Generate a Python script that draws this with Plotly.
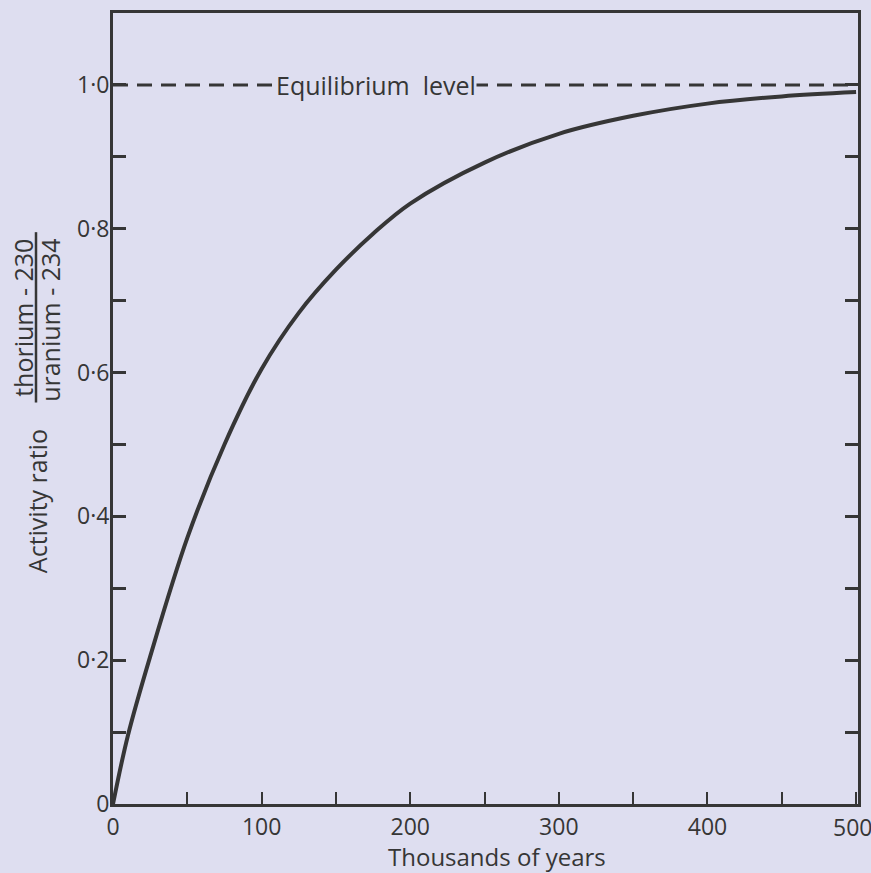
import plotly.graph_objects as go

# Data
years_k = [0, 10, 25, 50, 75, 100, 125, 150, 175, 200, 250, 300, 350, 400, 450, 500]
activity_ratio = [0, 0.095, 0.205, 0.37, 0.50, 0.605, 0.683, 0.743, 0.793, 0.835,
                  0.892, 0.932, 0.957, 0.974, 0.984, 0.99]

equilibrium_level = 1.0
equilibrium_x = [0, 500]
equilibrium_label = "Equilibrium  level"
equilibrium_label_x = 177

x_tickvals = [0, 50, 100, 150, 200, 250, 300, 350, 400, 450, 500]
x_ticktext = ["0", "", "100", "", "200", "", "300", "", "400", "", ""]
x_last_label = "500"
x_last_value = 500
y_tickvals = [0, 0.1, 0.2, 0.3, 0.4, 0.5, 0.6, 0.7, 0.8, 0.9, 1.0]
y_ticktext = ["0", "", "0·2", "", "0·4", "", "0·6", "", "0·8", "", "1·0"]

BG = "#DEDEF0"
INK = "#363636"
FONT = "Open Sans"
TICK_SIZE = 23

fig = go.Figure()

fig.add_trace(go.Scatter(
    x=equilibrium_x, y=[equilibrium_level] * len(equilibrium_x),
    mode="lines", line=dict(color=INK, width=3, dash="15px,9px"),
    hoverinfo="skip", showlegend=False))

fig.add_trace(go.Scatter(
    x=years_k, y=activity_ratio, mode="lines",
    line=dict(color=INK, width=4, shape="spline", smoothing=1.0),
    showlegend=False))

fig.add_annotation(x=equilibrium_label_x, y=equilibrium_level, xref="x", yref="y",
                   text=equilibrium_label, showarrow=False, bgcolor=BG,
                   font=dict(family=FONT, size=25, color=INK),
                   xanchor="center", yanchor="middle", borderpad=0)

# last x tick label drawn as annotation so it stays inside the page
fig.add_annotation(x=x_last_value, y=0, xref="x", yref="paper", text=x_last_label,
                   showarrow=False, xanchor="center", yanchor="top",
                   xshift=-4, yshift=-5,
                   font=dict(family=FONT, size=TICK_SIZE, color=INK))

L, R, T, B = 113, 13, 10, 69
W, H = 871, 873
pw, ph = W - L - R, H - T - B

def px_to_paper(px, py):
    return (px - L) / pw, (H - B - py) / ph

ax, ay = px_to_paper(37, 500)
fig.add_annotation(x=ax, y=ay, xref="paper", yref="paper", text="Activity ratio",
                   textangle=-90, showarrow=False,
                   font=dict(family=FONT, size=25, color=INK),
                   xanchor="center", yanchor="middle")
nx, ny = px_to_paper(23, 316)
fig.add_annotation(x=nx, y=ny, xref="paper", yref="paper", text="thorium - 230",
                   textangle=-90, showarrow=False,
                   font=dict(family=FONT, size=25, color=INK),
                   xanchor="center", yanchor="middle")
dx, dy = px_to_paper(50, 318)
fig.add_annotation(x=dx, y=dy, xref="paper", yref="paper", text="uranium - 234",
                   textangle=-90, showarrow=False,
                   font=dict(family=FONT, size=25, color=INK),
                   xanchor="center", yanchor="middle")
lx, ly0 = px_to_paper(36, 401)
_, ly1 = px_to_paper(36, 230)
fig.add_shape(type="line", xref="paper", yref="paper", x0=lx, x1=lx, y0=ly0, y1=ly1,
              line=dict(color=INK, width=2.5))

tx, ty = px_to_paper(497, 857)
fig.add_annotation(x=tx, y=ty, xref="paper", yref="paper", text="Thousands of years",
                   showarrow=False, font=dict(family=FONT, size=24, color=INK),
                   xanchor="center", yanchor="middle")

fig.update_xaxes(range=[0, 501.3], tickvals=x_tickvals, ticktext=x_ticktext,
                 ticks="inside", ticklen=12, tickwidth=2, tickcolor=INK,
                 showline=True, linewidth=3, linecolor=INK, mirror=True,
                 showgrid=False, zeroline=False,
                 tickfont=dict(family=FONT, size=TICK_SIZE, color=INK))
fig.update_yaxes(range=[0, 1.1], tickvals=y_tickvals, ticktext=y_ticktext,
                 ticks="inside", ticklen=13, tickwidth=2.5, tickcolor=INK,
                 showline=True, linewidth=3, linecolor=INK, mirror="allticks",
                 showgrid=False, zeroline=False, ticklabelstandoff=-4,
                 tickfont=dict(family=FONT, size=TICK_SIZE, color=INK))

fig.update_layout(width=W, height=H, margin=dict(l=L, r=R, t=T, b=B),
                  paper_bgcolor=BG, plot_bgcolor=BG, showlegend=False)

fig.write_html(
    "out.html",
    config={"displayModeBar": False},
    post_script=("document.body.style.margin='0';"
                 "document.body.style.overflow='hidden';"
                 "document.documentElement.style.overflow='hidden';"
                 f"document.body.style.background='{BG}';"),
)
